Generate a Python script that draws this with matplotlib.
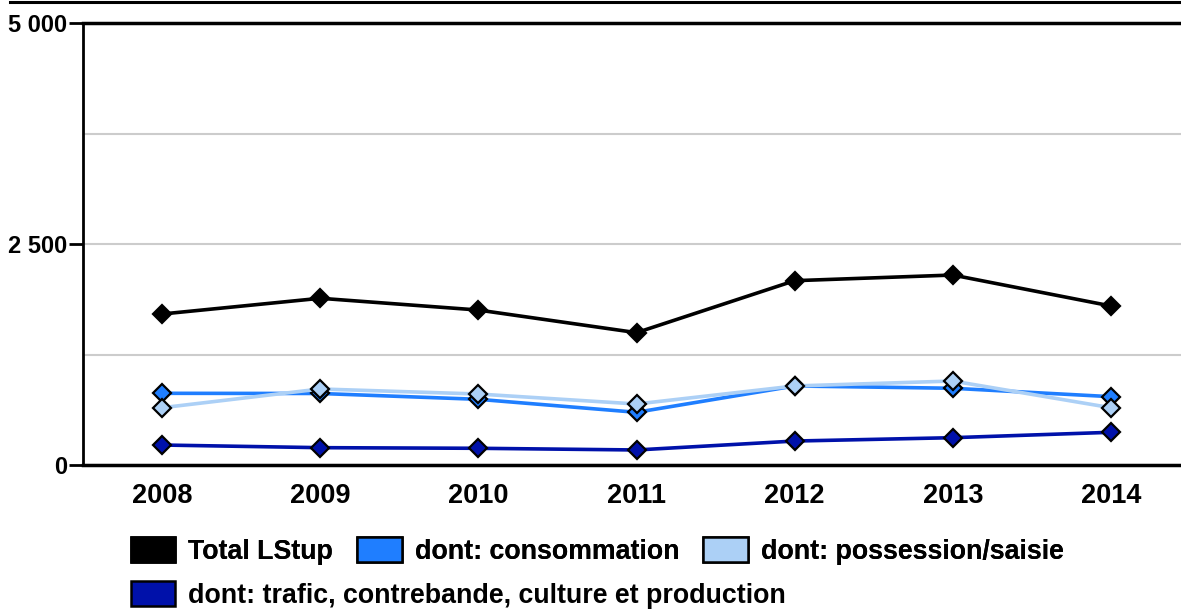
import matplotlib
matplotlib.use("Agg")
import matplotlib.pyplot as plt
from matplotlib.lines import Line2D
from matplotlib.patches import Patch
from matplotlib.ticker import FuncFormatter

years = [2008, 2009, 2010, 2011, 2012, 2013, 2014]
total = [1708, 1886, 1753, 1497, 2085, 2149, 1799]
consommation = [811, 809, 743, 596, 894, 868, 773]
possession = [648, 860, 803, 690, 894, 950, 648]
trafic = [226, 196, 189, 170, 271, 309, 370]

labels = ["Total LStup", "dont: consommation", "dont: possession/saisie",
          "dont: trafic, contrebande, culture et production"]
colors = ["#000000", "#1f7eff", "#acd0f6", "#0011aa"]

plt.rcParams['font.family'] = ['Liberation Sans', 'DejaVu Sans']
plt.rcParams['font.weight'] = 'bold'

fig = plt.figure(figsize=(11.81, 6.11), dpi=100)
ax = fig.add_axes([83/1181, 1-465/611, 1-83/1181, (465-23)/611])

series = [total, consommation, possession, trafic]
for vals, col in zip(series, colors):
    ax.plot(years, vals, color=col, lw=2.6, marker='D', ms=8.7,
            mfc=col, mec='black', mew=1.6, zorder=3, solid_joinstyle='round')

ax.set_xlim(2007.5, 2014 + (1181-1111)/158)
ax.set_ylim(0, 5000)
ax.set_yticks([0, 2500, 5000])
ax.set_yticks([1250, 3750], minor=True)
ax.yaxis.set_major_formatter(FuncFormatter(lambda v, p: f"{int(v):,}".replace(",", " ")))
ax.set_xticks(years)
ax.set_xticklabels([str(y) for y in years])

ax.grid(axis='y', which='both', color='#cccccc', lw=1.5, zorder=0)
ax.tick_params(axis='y', which='major', length=10, width=2, pad=1.5, labelsize=17, color='black')
ax.tick_params(axis='y', which='minor', length=0)
ax.tick_params(axis='x', length=0, pad=13, labelsize=19.5)
for lab in ax.get_xticklabels() + ax.get_yticklabels():
    lab.set_fontweight('bold')

ax.spines['right'].set_visible(False)
ax.spines['top'].set_linewidth(2.5)
ax.spines['bottom'].set_linewidth(2.5)
ax.spines['left'].set_linewidth(2)
ax.spines['top'].set_zorder(5)
ax.spines['bottom'].set_zorder(5)
ax.set_axisbelow(True)

# top border line
fig.add_artist(Line2D([10/1181, 1.0], [1-2/611, 1-2/611], color='black', lw=2.2,
                      transform=fig.transFigure))

handles = [Patch(facecolor=c, edgecolor='black', lw=1.8) for c in colors]
common = dict(frameon=False, prop={'weight': 'bold', 'size': 19.3},
              handlelength=1.66, handleheight=1.07, handletextpad=0.48,
              borderpad=0, borderaxespad=0)
leg1 = fig.legend(handles[:3], labels[:3], ncol=3, loc='center left',
                  bbox_to_anchor=(131/1181, 1-551/611), columnspacing=0.9, **common)
leg2 = fig.legend(handles[3:], labels[3:], ncol=1, loc='center left',
                  bbox_to_anchor=(131/1181, 1-595/611), **common)
fig.add_artist(leg1)

fig.savefig("out.png", dpi=100)
